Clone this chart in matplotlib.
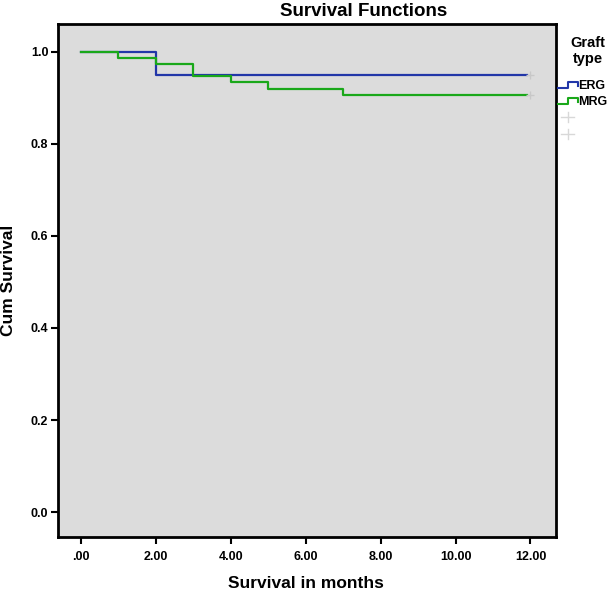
import numpy as np
import matplotlib.pyplot as plt
from matplotlib.lines import Line2D

# Kaplan-Meier steps
erg_t = [0, 2, 12]
erg_s = [1.0, 0.95, 0.95]
mrg_t = [0, 1, 2, 3, 4, 5, 7, 12]
mrg_s = [1.0, 0.9867, 0.9733, 0.9467, 0.9333, 0.92, 0.9067, 0.9067]
censor_t = 12
xticks = [0, 2, 4, 6, 8, 10, 12]
xticklabels = ['.00', '2.00', '4.00', '6.00', '8.00', '10.00', '12.00']
yticks = [0.0, 0.2, 0.4, 0.6, 0.8, 1.0]
groups = ['ERG', 'MRG']

blue = '#2236a8'
green = '#1aa81a'
grey = '#c8c8c8'

plt.rcParams['font.family'] = ['Liberation Sans', 'DejaVu Sans']
plt.rcParams['font.weight'] = 'bold'

W, H = 614, 593
fig = plt.figure(figsize=(6.14, 5.93), dpi=100)
ax = fig.add_axes([0.0945, 0.0944, 0.811, 0.8646])
ax.set_facecolor('#dcdcdc')

ax.step(erg_t[:-1] + [11.9], erg_s, where='post', color=blue, lw=1.6)
ax.step(mrg_t[:-1] + [11.9], mrg_s, where='post', color=green, lw=1.6)
ax.plot([censor_t], [erg_s[-1]], marker='+', color=grey, ms=6, mew=1)
ax.plot([censor_t], [mrg_s[-1]], marker='+', color=grey, ms=6, mew=1)

ax.set_xlim(-0.61, 12.68)
ax.set_ylim(-0.054, 1.0595)
ax.set_xticks(xticks)
ax.set_xticklabels(xticklabels)
ax.set_yticks(yticks)
ax.set_yticklabels(['%.1f' % v for v in yticks])
ax.tick_params(axis='both', direction='out', length=5, width=1.5, labelsize=9,
               color='black')
ax.tick_params(axis='x', pad=5)
ax.tick_params(axis='y', pad=2)
for s in ax.spines.values():
    s.set_linewidth(2)
    s.set_color('black')

fig.text(306 / W, 1 - 583 / H, 'Survival in months', fontsize=12.5,
         fontweight='bold', ha='center', va='center')
fig.text(9 / W, 1 - 280 / H, 'Cum Survival', fontsize=12.5, fontweight='bold',
         ha='center', va='center', rotation=90)
fig.text(364 / W, 1 - 11 / H, 'Survival Functions', fontsize=13.5,
         fontweight='bold', ha='center', va='center')

# legend
fig.text(588 / W, 1 - 43 / H, 'Graft', fontsize=10.5, fontweight='bold',
         ha='center', va='center')
fig.text(588 / W, 1 - 59 / H, 'type', fontsize=10.5, fontweight='bold',
         ha='center', va='center')
for i, (g, c) in enumerate(zip(groups, [blue, green])):
    yc = 85 + 16 * i
    xs = np.array([558, 568, 568, 578, 578]) / W
    ys = 1 - np.array([yc + 3, yc + 3, yc - 3, yc - 3, yc + 1]) / H
    fig.add_artist(Line2D(xs, ys, color=c, lw=1.5, transform=fig.transFigure))
    fig.text(578 / W, 1 - (yc + 1) / H, g, fontsize=9, fontweight='bold',
             ha='left', va='center')
for i in range(2):
    yc = 117 + 17 * i
    fig.add_artist(Line2D([561 / W, 574 / W], [1 - yc / H] * 2, color='#d8d8d8',
                          lw=1, transform=fig.transFigure))
    fig.add_artist(Line2D([567.5 / W] * 2, [1 - (yc - 5) / H, 1 - (yc + 5) / H],
                          color='#d8d8d8', lw=1, transform=fig.transFigure))

fig.savefig('out.png', dpi=100)
